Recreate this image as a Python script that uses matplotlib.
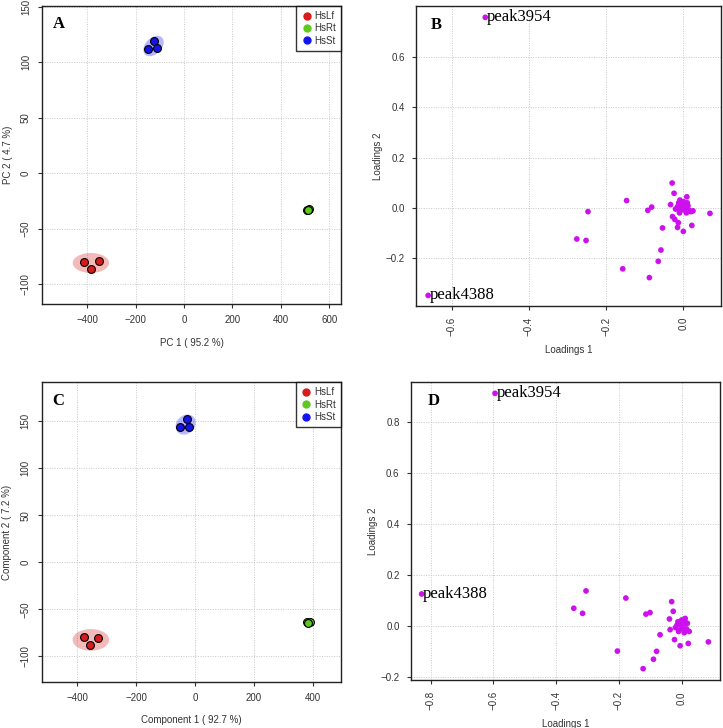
import numpy as np
import matplotlib.pyplot as plt

# fonts
plt.rcParams['font.family'] = ['Liberation Sans', 'DejaVu Sans']
plt.rcParams['axes.linewidth'] = 1.0

# ---------------- data ----------------
groups = ['HsLf', 'HsRt', 'HsSt']
group_colors = ['#D81B1B', '#5FC821', '#1414EE']

# PCA scores (panel A)
pca_x = {'HsLf': [-415, -350, -383], 'HsRt': [510, 518, 514], 'HsSt': [-147, -125, -110]}
pca_y = {'HsLf': [-80, -79, -86], 'HsRt': [-33, -32, -33.5], 'HsSt': [112, 119, 113]}

# PLS-DA scores (panel C)
pls_x = {'HsLf': [-378, -330, -358], 'HsRt': [381, 389, 385], 'HsSt': [-50, -27, -19]}
pls_y = {'HsLf': [-79, -80.5, -88], 'HsRt': [-64, -63, -64.5], 'HsSt': [144, 152.5, 144]}

# confidence ellipses: center x, center y, x half width, y half height, tilt
pca_ell = {'HsLf': (-385, -81, 75, 9, 0), 'HsRt': (514, -33, 12, 2.5, 0), 'HsSt': (-126, 114.5, 42, 8.5, 3.5)}
pls_ell = {'HsLf': (-354, -82.5, 62, 11.5, 0), 'HsRt': (385, -63.5, 12, 3, 0), 'HsSt': (-32, 146.5, 34, 10.5, 2)}

# loadings (panel B)
loadB_x = [-0.513, -0.661, -0.247, -0.276, -0.252, -0.147, -0.157, -0.088, -0.058, -0.065,
           -0.092, -0.082, -0.054, -0.029, -0.024, -0.033, -0.028, -0.022, -0.015, -0.013,
           0.000, 0.022, 0.069, 0.009, -0.009, 0.0, 0.005, -0.005, 0.01, -0.01, 0.015, 0.02,
           -0.015, 0.0, 0.008, -0.02, 0.012, -0.008, 0.003, 0.025, -0.012]
loadB_y = [0.759, -0.349, -0.015, -0.124, -0.130, 0.029, -0.243, -0.278, -0.168, -0.213,
           -0.010, 0.003, -0.080, 0.099, 0.058, 0.013, -0.035, -0.046, -0.078, -0.059,
           -0.094, -0.070, -0.022, 0.044, 0.031, 0.0, -0.01, 0.01, 0.02, -0.02, -0.01, -0.015,
           0.005, 0.025, -0.02, -0.005, 0.008, -0.012, 0.015, -0.012, 0.02]

# loadings (panel D)
loadD_x = [-0.595, -0.829, -0.305, -0.344, -0.316, -0.178, -0.114, -0.101, -0.205, -0.123,
           -0.090, -0.080, -0.069, -0.032, -0.027, -0.039, -0.037, -0.023, -0.005, 0.021,
           0.085, 0.024, 0.011, 0.0, 0.005, -0.005, 0.01, -0.01, 0.015, -0.015, 0.0, 0.008,
           -0.02, 0.012, -0.008, 0.018, -0.012]
loadD_y = [0.914, 0.127, 0.139, 0.071, 0.051, 0.111, 0.048, 0.054, -0.097, -0.166,
           -0.129, -0.098, -0.033, 0.097, 0.059, 0.029, -0.013, -0.052, -0.076, -0.067,
           -0.061, -0.020, 0.031, 0.0, -0.01, 0.01, 0.02, -0.02, -0.01, 0.005, 0.025, -0.025,
           -0.005, 0.01, -0.015, 0.012, 0.018]
peak_names = ['peak3954', 'peak4388']

load_color = '#CC11EE'
grid_kw = dict(color='#C8C8C8', linestyle=(0, (1, 1.5)), linewidth=0.7)
tick_color = '#333333'


def style_axes(ax, rotate_x=False, rotate_y=False):
    ax.grid(True, **grid_kw)
    ax.set_axisbelow(True)
    ax.tick_params(labelsize=7, colors=tick_color, length=3, width=0.8, pad=5)
    for lbl in ax.get_yticklabels():
        if rotate_y:
            lbl.set_rotation(90)
            lbl.set_va('center')
    for lbl in ax.get_xticklabels():
        if rotate_x:
            lbl.set_rotation(90)
    for s in ax.spines.values():
        s.set_color('#222222')


def draw_ellipse(ax, cx, cy, rx, ry, k, color):
    t = np.linspace(0, 2 * np.pi, 200)
    ex = cx + rx * np.cos(t)
    ey = cy + ry * np.sin(t) + k * np.cos(t)
    ax.fill(ex, ey, color=color, alpha=0.3, lw=0, zorder=2)


def score_plot(ax, xs, ys, ells, xlab, ylab, letter):
    for g, c in zip(groups, group_colors):
        draw_ellipse(ax, *ells[g], c)
    for g, c in zip(groups, group_colors):
        ax.scatter(xs[g], ys[g], s=32, color=c, edgecolors='black', linewidths=0.8, zorder=3)
    # legend
    hs = [plt.Line2D([], [], marker='o', ls='', color=c, markersize=5) for c in group_colors]
    leg = ax.legend(hs, groups, loc='upper right', fontsize=7, frameon=True, fancybox=False,
                    borderaxespad=0, handletextpad=0.2, borderpad=0.5, labelspacing=0.25,
                    handlelength=1.2)
    leg.get_frame().set_edgecolor('black')
    leg.get_frame().set_linewidth(1.0)
    for t in leg.get_texts():
        t.set_color(tick_color)
    ax.set_xlabel(xlab, fontsize=7, color=tick_color, labelpad=9)
    ax.set_ylabel(ylab, fontsize=7, color=tick_color, labelpad=6)
    ax.text(0.035, 0.965, letter, transform=ax.transAxes, fontsize=12, fontweight='bold',
            family='Liberation Serif', va='top', ha='left')


def loading_plot(ax, lx, ly, letter, lx_pos):
    ax.scatter(lx, ly, s=17, color=load_color, edgecolors='none', zorder=3)
    for i, name in enumerate(peak_names):
        ax.text(lx[i] + 0.004, ly[i], name, fontsize=12, family='Liberation Serif',
                va='center', ha='left', zorder=4)
    ax.set_xlabel('Loadings 1', fontsize=7, color=tick_color, labelpad=6)
    ax.set_ylabel('Loadings 2', fontsize=7, color=tick_color, labelpad=2)
    ax.text(lx_pos, 0.965, letter, transform=ax.transAxes, fontsize=12, fontweight='bold',
            family='Liberation Serif', va='top', ha='left')


fig = plt.figure(figsize=(7.23, 7.28), dpi=100)

# panel A
axA = fig.add_axes([0.0581, 0.5824, 0.4136, 0.4093])
score_plot(axA, pca_x, pca_y, pca_ell, 'PC 1 ( 95.2 %)', 'PC 2 ( 4.7 %)', 'A')
axA.set_xlim(-587, 649)
axA.set_ylim(-118, 150.5)
axA.set_xticks([-400, -200, 0, 200, 400, 600])
axA.set_yticks([-100, -50, 0, 50, 100, 150])
style_axes(axA, rotate_y=True)

# panel B
axB = fig.add_axes([0.5754, 0.5797, 0.4219, 0.412])
loading_plot(axB, loadB_x, loadB_y, 'B', 0.05)
axB.set_xlim(-0.6925, 0.0977)
axB.set_ylim(-0.391, 0.804)
axB.set_xticks([-0.6, -0.4, -0.2, 0.0])
axB.set_yticks([-0.2, 0.0, 0.2, 0.4, 0.6])
style_axes(axB, rotate_x=True)

# panel C
axC = fig.add_axes([0.0577, 0.0636, 0.4136, 0.4113])
score_plot(axC, pls_x, pls_y, pls_ell, 'Component 1 ( 92.7 %)', 'Component 2 ( 7.2 %)', 'C')
axC.set_xlim(-521, 495)
axC.set_ylim(-127, 191.5)
axC.set_xticks([-400, -200, 0, 200, 400])
axC.set_yticks([-100, -50, 0, 50, 100, 150])
style_axes(axC, rotate_y=True)

# panel D
axD = fig.add_axes([0.568, 0.0659, 0.4278, 0.4089])
loading_plot(axD, loadD_x, loadD_y, 'D', 0.055)
axD.set_xlim(-0.864, 0.122)
axD.set_ylim(-0.2105, 0.957)
axD.set_xticks([-0.8, -0.6, -0.4, -0.2, 0.0])
axD.set_yticks([-0.2, 0.0, 0.2, 0.4, 0.6, 0.8])
style_axes(axD, rotate_x=True)

fig.savefig('out.png', dpi=100)
